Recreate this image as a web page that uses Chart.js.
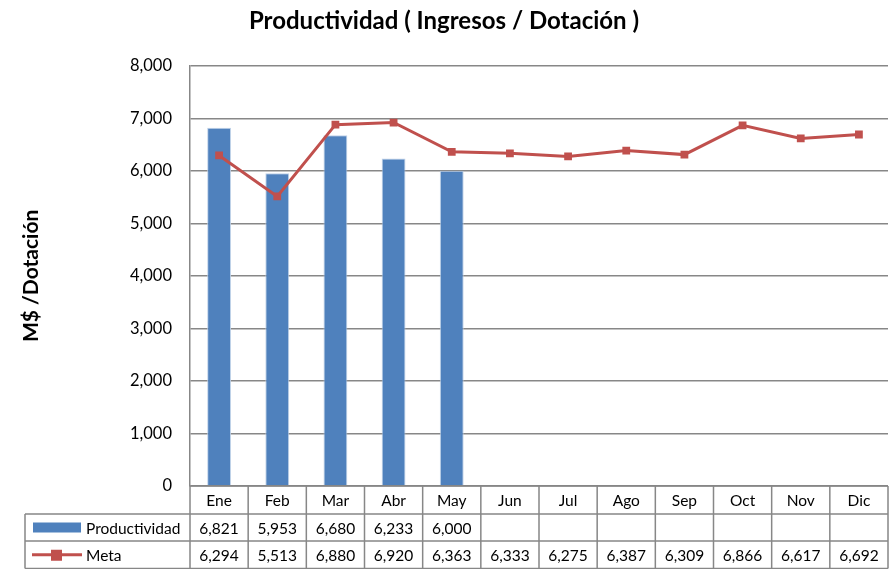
<!DOCTYPE html>
<html>
<head>
<meta charset="utf-8">
<script src="https://cdn.jsdelivr.net/npm/chart.js@4.4.1/dist/chart.umd.min.js"></script>
<style>
  html, body { margin: 0; padding: 0; background: #fff; }
  #wrap { width: 890px; height: 569px; }
</style>
</head>
<body>
<div id="wrap"><canvas id="chart" width="890" height="569"></canvas></div>
<script>
// Data
const months = ['Ene', 'Feb', 'Mar', 'Abr', 'May', 'Jun', 'Jul', 'Ago', 'Sep', 'Oct', 'Nov', 'Dic'];
const productividad = [6821, 5953, 6680, 6233, 6000, null, null, null, null, null, null, null];
const meta = [6294, 5513, 6880, 6920, 6363, 6333, 6275, 6387, 6309, 6866, 6617, 6692];
const yTicks = [0, 1000, 2000, 3000, 4000, 5000, 6000, 7000, 8000];

const FONT = 'Lato, "Open Sans", sans-serif';
const BLUE = '#4F81BD';
const RED = '#C0504D';
const GRID = '#878787';

const fmt = v => v == null ? '' : v.toLocaleString('en-US');

// Draws the Excel-style data table under the plot, with legend keys
const dataTablePlugin = {
    id: 'dataTable',
    afterDraw(chart) {
        const { ctx, chartArea } = chart;
        const x = chart.scales.x;
        const left = chartArea.left, right = chartArea.right;
        const w = (right - left) / months.length;
        const rows = [chartArea.bottom, chartArea.bottom + 28, chartArea.bottom + 55, chartArea.bottom + 82.5];
        const tableLeft = 25;

        ctx.save();
        ctx.strokeStyle = GRID;
        ctx.lineWidth = 1.5;
        ctx.beginPath();
        // horizontal lines
        ctx.moveTo(left, rows[0]); ctx.lineTo(right, rows[0]);
        for (let r = 1; r < rows.length; r++) {
            ctx.moveTo(tableLeft, rows[r]); ctx.lineTo(right, rows[r]);
        }
        // vertical lines
        for (let i = 0; i <= months.length; i++) {
            const px = left + i * w;
            ctx.moveTo(px, rows[0]); ctx.lineTo(px, rows[3]);
        }
        ctx.moveTo(tableLeft, rows[1]); ctx.lineTo(tableLeft, rows[3]);
        ctx.stroke();

        // text
        ctx.fillStyle = '#000';
        ctx.font = '15.5px ' + FONT;
        ctx.textAlign = 'center';
        ctx.textBaseline = 'middle';
        months.forEach((m, i) => {
            const cx = x.getPixelForValue(i);
            ctx.fillText(m, cx, (rows[0] + rows[1]) / 2 + 1);
            ctx.fillText(fmt(productividad[i]), cx, (rows[1] + rows[2]) / 2 + 1);
            ctx.fillText(fmt(meta[i]), cx, (rows[2] + rows[3]) / 2 + 1);
        });

        // legend keys
        const y1 = (rows[1] + rows[2]) / 2, y2 = (rows[2] + rows[3]) / 2;
        ctx.fillStyle = BLUE;
        ctx.fillRect(33, y1 - 5, 48, 10);
        ctx.strokeStyle = RED;
        ctx.lineWidth = 3;
        ctx.beginPath();
        ctx.moveTo(32, y2); ctx.lineTo(82, y2);
        ctx.stroke();
        ctx.fillStyle = RED;
        ctx.fillRect(51, y2 - 5, 11, 11);

        ctx.fillStyle = '#000';
        ctx.textAlign = 'left';
        ctx.fillText('Productividad', 86, y1 + 1);
        ctx.fillText('Meta', 86, y2 + 1);
        ctx.restore();
    }
};

const chart = new Chart(document.getElementById('chart').getContext('2d'), {
    type: 'bar',
    data: {
        labels: months,
        datasets: [
            {
                type: 'line',
                label: 'Meta',
                data: meta,
                borderColor: RED,
                backgroundColor: RED,
                borderWidth: 3,
                pointStyle: 'rect',
                pointRadius: 5.5,
                pointBorderWidth: 0,
                tension: 0,
                order: 0
            },
            {
                type: 'bar',
                label: 'Productividad',
                data: productividad,
                backgroundColor: BLUE,
                borderColor: 'rgba(185,205,229,0.9)',
                borderWidth: 1,
                barPercentage: 0.41,
                categoryPercentage: 1,
                order: 1
            }
        ]
    },
    options: {
        responsive: false,
        animation: false,
        layout: { autoPadding: false, padding: { left: 0, right: 2, top: 0, bottom: 83 } },
        plugins: {
            legend: { display: false },
            tooltip: { enabled: false },
            title: {
                display: true,
                text: 'Productividad ( Ingresos / Dotación )',
                color: '#000',
                font: { family: FONT, size: 24, weight: 'bold' },
                padding: { top: 7, bottom: 30 }
            }
        },
        scales: {
            x: { display: false, offset: true },
            y: {
                min: 0,
                max: 8000,
                afterFit: scale => { scale.width = 190; },
                afterBuildTicks: scale => { scale.ticks = yTicks.map(v => ({ value: v })); },
                grid: { color: GRID, lineWidth: 1.5, drawTicks: false },
                border: { color: GRID, width: 1.5 },
                ticks: {
                    color: '#000',
                    padding: 18,
                    font: { family: FONT, size: 16.5 },
                    callback: v => v.toLocaleString('en-US')
                },
                title: {
                    display: true,
                    text: 'M$ /Dotación',
                    color: '#000',
                    font: { family: FONT, size: 21, weight: 'bold' },
                    padding: { top: 19, bottom: 0 }
                }
            }
        }
    },
    plugins: [dataTablePlugin]
});
</script>
</body>
</html>
